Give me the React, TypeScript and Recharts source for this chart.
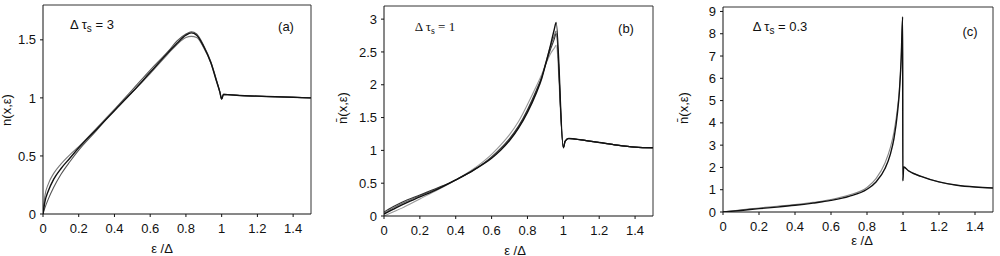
import React from 'react';
import { LineChart, Line, XAxis, YAxis, ReferenceLine } from 'recharts';

// x positions (epsilon / Delta) and curve values
const xsA = [0, 0.01, 0.03, 0.06, 0.1, 0.15, 0.2, 0.3, 0.4, 0.5, 0.6, 0.7, 0.75, 0.8, 0.83, 0.86, 0.9, 0.94, 0.97, 0.99, 1.0, 1.01, 1.1, 1.2, 1.3, 1.4, 1.5];
const aMain = [0, 0.1, 0.2, 0.3, 0.39, 0.48, 0.57, 0.73, 0.89, 1.05, 1.22, 1.39, 1.47, 1.54, 1.56, 1.54, 1.44, 1.3, 1.15, 1.05, 0.99, 1.03, 1.02, 1.015, 1.01, 1.005, 1.0];
const aGray1 = [0, 0.15, 0.26, 0.35, 0.43, 0.51, 0.58, 0.74, 0.9, 1.05, 1.21, 1.38, 1.46, 1.52, 1.53, 1.52, 1.43, 1.3, 1.15, 1.05, 0.99, 1.03, 1.02, 1.015, 1.01, 1.005, 1.0];
const aGray2 = [0, 0.05, 0.13, 0.23, 0.34, 0.45, 0.55, 0.72, 0.9, 1.07, 1.24, 1.4, 1.49, 1.55, 1.57, 1.55, 1.45, 1.31, 1.16, 1.05, 0.99, 1.03, 1.02, 1.015, 1.01, 1.005, 1.0];

const xsB = [0, 0.05, 0.1, 0.2, 0.3, 0.4, 0.5, 0.6, 0.65, 0.7, 0.75, 0.8, 0.85, 0.88, 0.9, 0.93, 0.95, 0.96, 1.0, 1.01, 1.03, 1.1, 1.2, 1.3, 1.4, 1.5];
const bMain = [0.03, 0.1, 0.17, 0.29, 0.41, 0.55, 0.7, 0.88, 1.0, 1.15, 1.34, 1.58, 1.88, 2.1, 2.3, 2.62, 2.85, 2.95, 1.04, 1.14, 1.18, 1.16, 1.12, 1.08, 1.05, 1.04];
const bDark = [0.06, 0.14, 0.21, 0.32, 0.43, 0.55, 0.7, 0.9, 1.03, 1.18, 1.37, 1.62, 1.92, 2.12, 2.3, 2.55, 2.7, 2.78, 1.04, 1.14, 1.18, 1.16, 1.12, 1.08, 1.05, 1.04];
const bGray1 = [0.04, 0.12, 0.19, 0.31, 0.42, 0.55, 0.7, 0.89, 1.01, 1.16, 1.35, 1.6, 1.9, 2.12, 2.32, 2.6, 2.75, 2.82, 1.04, 1.14, 1.18, 1.16, 1.12, 1.08, 1.05, 1.04];
const bGray2 = [0, 0.06, 0.12, 0.26, 0.4, 0.55, 0.72, 0.94, 1.08, 1.24, 1.44, 1.7, 1.98, 2.16, 2.3, 2.48, 2.56, 2.6, 1.04, 1.14, 1.18, 1.16, 1.12, 1.08, 1.05, 1.04];

const xsC = [0, 0.1, 0.2, 0.3, 0.4, 0.5, 0.6, 0.7, 0.8, 0.85, 0.9, 0.93, 0.95, 0.97, 0.98, 0.99, 0.998, 0.999, 1.004, 1.03, 1.1, 1.2, 1.3, 1.4, 1.5];
const cMain = [0, 0.07, 0.15, 0.22, 0.3, 0.4, 0.52, 0.7, 1.02, 1.35, 1.95, 2.6, 3.3, 4.5, 5.4, 6.9, 8.75, 1.4, 2.02, 1.85, 1.6, 1.35, 1.2, 1.12, 1.08];
const cGray = [0, 0.1, 0.18, 0.26, 0.33, 0.43, 0.56, 0.76, 1.1, 1.5, 2.2, 2.9, 3.6, 4.7, 5.5, 6.9, 8.75, 1.4, 2.02, 1.85, 1.6, 1.35, 1.2, 1.12, 1.08];

const xTicks = [0, 0.2, 0.4, 0.6, 0.8, 1, 1.2, 1.4];
const yTicksA = [0, 0.5, 1, 1.5];
const yTicksB = [0, 0.5, 1, 1.5, 2, 2.5, 3];
const yTicksC = [0, 1, 2, 3, 4, 5, 6, 7, 8, 9];

const FONT = '"Liberation Sans", Arial, sans-serif';
const SERIF = '"Liberation Serif", "Times New Roman", serif';

function build(xs: number[], series: number[][]) {
  return xs.map((x, i) => {
    const row: any = { x };
    series.forEach((s, k) => {
      row['s' + k] = s[i];
    });
    return row;
  });
}

interface PanelProps {
  left: number;
  width: number;
  yWidth: number;
  xHeight: number;
  top: number;
  right: number;
  yMax: number;
  yTicks: number[];
  data: any[];
  colors: string[];
}

function Panel({ left, width, yWidth, xHeight, top, right, yMax, yTicks, data, colors }: PanelProps) {
  const tickStyle = { fontSize: 13, fill: '#111', fontFamily: FONT };
  return (
    <div style={{ position: 'absolute', left, top: 0 }}>
      <LineChart width={width} height={256} data={data} margin={{ top, right, left: 0, bottom: 0 }}>
        <XAxis
          dataKey="x"
          type="number"
          domain={[0, 1.5]}
          ticks={xTicks}
          height={xHeight}
          tickSize={3}
          tickMargin={7}
          stroke="#111"
          tick={tickStyle}
          allowDataOverflow
        />
        <YAxis
          type="number"
          domain={[0, yMax]}
          ticks={yTicks}
          width={yWidth}
          tickSize={3}
          tickMargin={4}
          stroke="#111"
          tick={tickStyle}
          allowDataOverflow
        />
        {/* box: top and right edges */}
        <ReferenceLine y={yMax} stroke="#333" strokeWidth={1} />
        <ReferenceLine x={1.5} stroke="#333" strokeWidth={1} />
        {colors.map((c, k) => (
          <Line
            key={k}
            dataKey={'s' + k}
            stroke={c}
            strokeWidth={k === colors.length - 1 ? 1.4 : 1.1}
            dot={false}
            isAnimationActive={false}
            type="monotone"
          />
        ))}
      </LineChart>
    </div>
  );
}

function Txt({ x, y, children, size = 13, family = FONT, rotate = false }: any) {
  return (
    <div
      style={{
        position: 'absolute',
        left: x,
        top: y,
        fontSize: size,
        fontFamily: family,
        color: '#111',
        whiteSpace: 'nowrap',
        lineHeight: 1,
        transform: rotate ? 'translate(-50%, -50%) rotate(-90deg)' : 'translate(-50%, -50%)',
      }}
    >
      {children}
    </div>
  );
}

export default function App() {
  const dataA = build(xsA, [aGray1, aGray2, aMain]);
  const dataB = build(xsB, [bGray2, bGray1, bDark, bMain]);
  const dataC = build(xsC, [cGray, cMain]);

  return (
    <div style={{ position: 'absolute', left: 0, top: 0, width: 1000, height: 256, background: '#fff', overflow: 'hidden' }}>
      <Panel left={0} width={330} yWidth={43} xHeight={42} top={5} right={19} yMax={1.8} yTicks={yTicksA} data={dataA} colors={['#777', '#555', '#111']} />
      <Panel left={340} width={330} yWidth={44} xHeight={40} top={6} right={17} yMax={3.2} yTicks={yTicksB} data={dataB} colors={['#999', '#666', '#333', '#111']} />
      <Panel left={675} width={325} yWidth={48} xHeight={44} top={7} right={7} yMax={9.2} yTicks={yTicksC} data={dataC} colors={['#888', '#111']} />

      {/* panel (a) */}
      <Txt x={6} y={110} rotate>n(x,ε)</Txt>
      <Txt x={162} y={248}>ε /Δ</Txt>
      <Txt x={92} y={26}>Δ τ<sub style={{ fontSize: 10 }}>s</sub> = 3</Txt>
      <Txt x={286} y={26}>(a)</Txt>

      {/* panel (b) */}
      <Txt x={342} y={108} rotate>n̄(x,ε)</Txt>
      <Txt x={515} y={250}>ε /Δ</Txt>
      <Txt x={435} y={28} family={SERIF}>Δ τ<sub style={{ fontSize: 10 }}>s</sub> = 1</Txt>
      <Txt x={626} y={28}>(b)</Txt>

      {/* panel (c) */}
      <Txt x={683} y={108} rotate>n̄(x,ε)</Txt>
      <Txt x={862} y={240}>ε /Δ</Txt>
      <Txt x={780} y={28}>Δ τ<sub style={{ fontSize: 10 }}>s</sub> = 0.3</Txt>
      <Txt x={970} y={31}>(c)</Txt>
    </div>
  );
}
